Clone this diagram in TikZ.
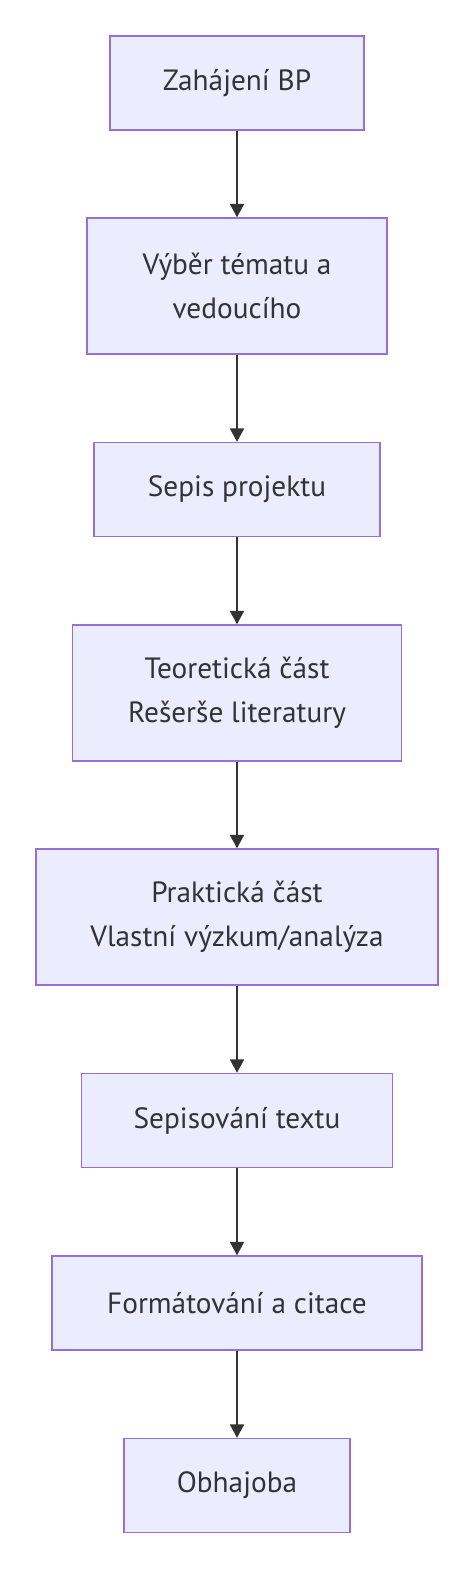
\documentclass[tikz,border=0pt]{standalone}
\usepackage{fontspec}
\setmainfont{PT Sans}
\usetikzlibrary{arrows.meta}
\definecolor{boxfill}{HTML}{ECECFF}
\definecolor{boxline}{HTML}{9370DB}
\definecolor{ink}{HTML}{333333}
\begin{document}
\begin{tikzpicture}[x=0.03cm,y=-0.03cm,
    stepbox/.style={draw=boxline,fill=boxfill,line width=1.2pt,text=ink,align=center,
      font=\fontsize{25}{37.5}\selectfont,inner sep=0pt,minimum height=2.82cm},
    tallbox/.style={stepbox,minimum height=4.08cm},
    flow/.style={draw=ink,line width=1.5pt,-{Triangle[length=0.4cm,width=0.42cm]}}]
      \useasboundingbox (0,0) rectangle (474,1571);

      \node [stepbox,minimum width=7.62cm] (start) at (237,83) {Zahájení BP};
      \node [tallbox,minimum width=9cm] (tema) at (237,286) {Výběr tématu a\\vedoucího};
      \node [stepbox,minimum width=8.58cm] (projekt) at (237,489.5) {Sepis projektu};
      \node [tallbox,minimum width=9.87cm] (teorie) at (237,693) {Teoretická část\\Rešerše literatury};
      \node [tallbox,minimum width=12.06cm] (praxe) at (237,917) {Praktická část\\Vlastní výzkum/analýza};
      \node [stepbox,minimum width=9.33cm] (text) at (237,1120.5) {Sepisování textu};
      \node [stepbox,minimum width=11.1cm] (format) at (237,1303) {Formátování a citace};
      \node [stepbox,minimum width=6.78cm] (obhajoba) at (237,1485.5) {Obhajoba};

      \draw [flow] (start) -- (tema);
      \draw [flow] (tema) -- (projekt);
      \draw [flow] (projekt) -- (teorie);
      \draw [flow] (teorie) -- (praxe);
      \draw [flow] (praxe) -- (text);
      \draw [flow] (text) -- (format);
      \draw [flow] (format) -- (obhajoba);

\end{tikzpicture}
\end{document}
